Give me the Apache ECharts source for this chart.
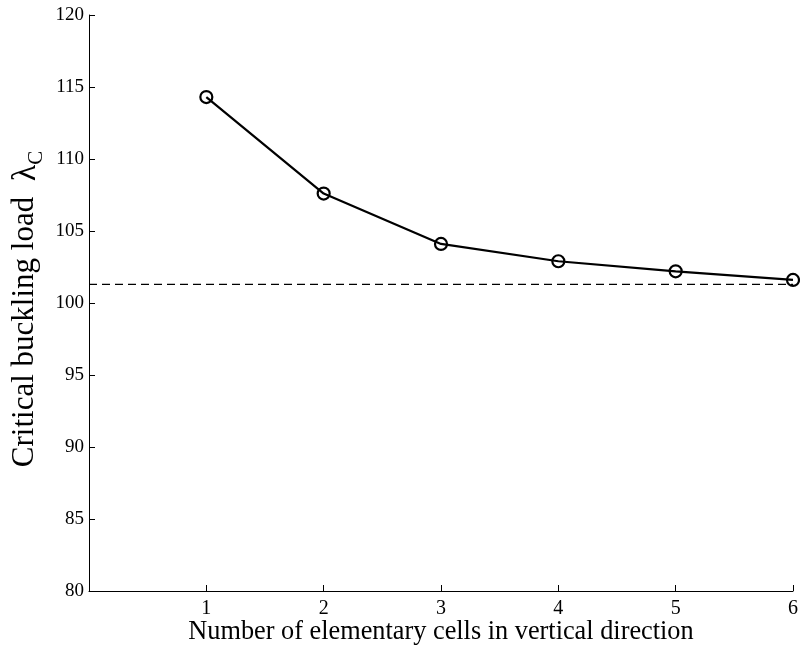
<!DOCTYPE html>
<html>
<head>
<meta charset="utf-8">
<script src="https://cdn.jsdelivr.net/npm/echarts@6/dist/echarts.min.js"></script>
<style>
  html, body { margin: 0; padding: 0; background: #fff; }
  #chart { width: 800px; height: 646px; }
</style>
</head>
<body>
<div id="chart"></div>
<script>
// cells in vertical direction vs critical buckling load
const cells = [1, 2, 3, 4, 5, 6]
const loads = [114.3, 107.6, 104.1, 102.9, 102.2, 101.6]
// limit value (dashed line) across whole x range
const limitX = [0, 6]
const limitLoad = 101.3

const chart = echarts.init(document.getElementById('chart'))
const font = 'Liberation Serif'

const option = {
  animation: false,
  backgroundColor: '#fff',
  grid: {
    left: 89,
    right: 7,
    top: 15,
    bottom: 55,
    outerBoundsMode: 'none'
  },
  xAxis: {
    type: 'value',
    min: 0,
    max: 6,
    interval: 1,
    name: 'Number of elementary cells in vertical direction',
    nameLocation: 'middle',
    nameGap: 28,
    nameMoveOverlap: false,
    nameTextStyle: { fontFamily: font, fontSize: 26.3, color: '#000' },
    axisLine: { lineStyle: { color: '#000', width: 1 } },
    axisTick: { inside: true, length: 6, lineStyle: { color: '#000' } },
    axisLabel: {
      fontFamily: font,
      fontSize: 20,
      color: '#000',
      margin: 8,
      formatter: v => (v === 0 ? '' : String(v))
    },
    splitLine: { show: false }
  },
  yAxis: {
    type: 'value',
    min: 80,
    max: 120,
    interval: 5,
    name: '{main|Critical buckling load  }{lam|λ}{sub|C}',
    nameLocation: 'middle',
    nameGap: 46,
    nameMoveOverlap: false,
    nameRotate: 90,
    nameTextStyle: {
      fontFamily: font,
      fontSize: 31,
      color: '#000',
      rich: {
        main: { fontFamily: font, fontSize: 31, color: '#000', lineHeight: 34, verticalAlign: 'top' },
        lam: { fontFamily: font, fontSize: 34, color: '#000', lineHeight: 34, verticalAlign: 'top' },
        sub: {
          fontFamily: font, fontSize: 21, color: '#000', lineHeight: 21,
          verticalAlign: 'top', padding: [17, 12, 0, 0]
        }
      }
    },
    axisLine: { show: true, lineStyle: { color: '#000', width: 1 } },
    axisTick: { show: true, inside: true, length: 6, lineStyle: { color: '#000' } },
    axisLabel: { fontFamily: font, fontSize: 19, color: '#000', margin: 5 },
    splitLine: { show: false }
  },
  series: [
    {
      name: 'limit',
      type: 'line',
      data: limitX.map(x => [x, limitLoad]),
      symbol: 'none',
      lineStyle: { color: '#000', width: 1.2, type: [8, 5] },
      z: 1
    },
    {
      name: 'load',
      type: 'line',
      data: cells.map((c, i) => [c, loads[i]]),
      symbol: 'circle',
      symbolSize: 12,
      itemStyle: { color: 'transparent', borderColor: '#000', borderWidth: 2.2 },
      lineStyle: { color: '#000', width: 2.2 },
      z: 2
    }
  ]
}

chart.setOption(option)
</script>
</body>
</html>
